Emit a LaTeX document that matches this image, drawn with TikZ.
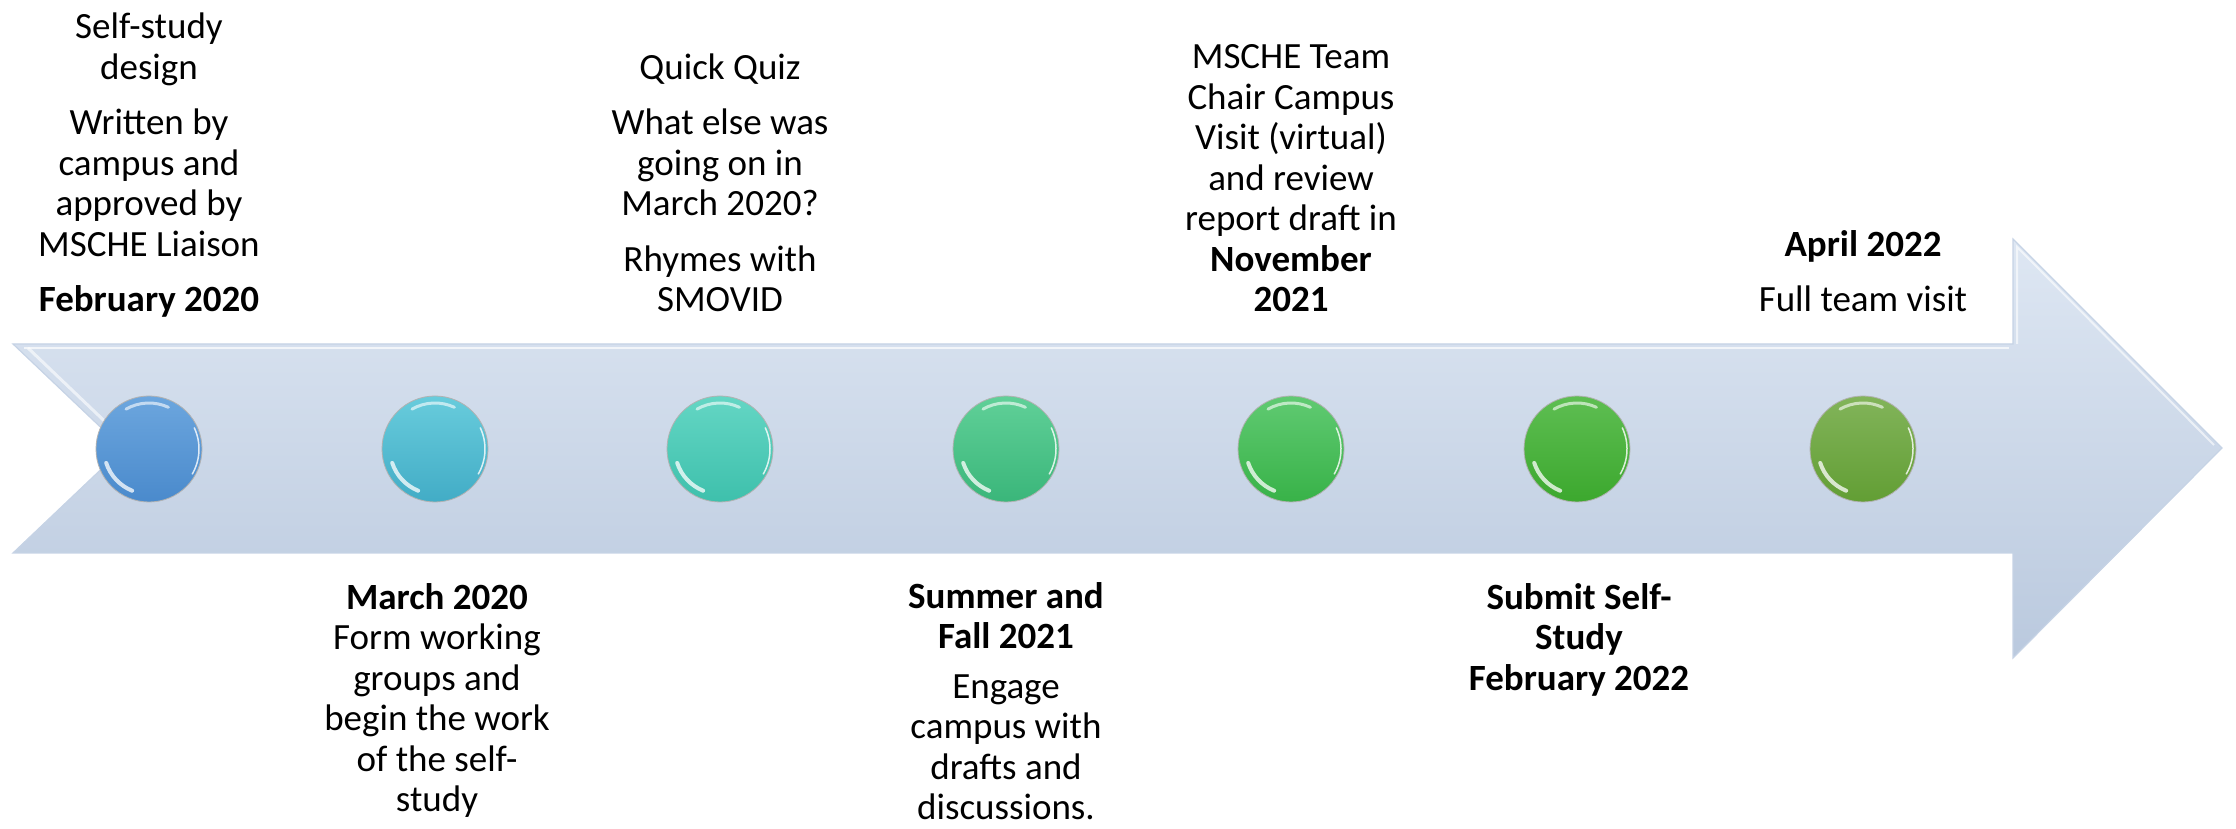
\documentclass[tikz,border=0pt]{standalone}
\usepackage{fontspec}
\setmainfont{Carlito}
\usetikzlibrary{calc}
\definecolor{arrtop}{RGB}{222,231,243}
\definecolor{arrbot}{RGB}{186,201,222}
\definecolor{arredge}{RGB}{198,211,229}
\definecolor{b1top}{RGB}{108,166,222}\definecolor{b1bot}{RGB}{74,138,204}
\definecolor{b2top}{RGB}{104,204,220}\definecolor{b2bot}{RGB}{66,172,198}
\definecolor{b3top}{RGB}{100,214,196}\definecolor{b3bot}{RGB}{62,192,172}
\definecolor{b4top}{RGB}{96,208,152}\definecolor{b4bot}{RGB}{58,182,122}
\definecolor{b5top}{RGB}{96,202,114}\definecolor{b5bot}{RGB}{56,178,72}
\definecolor{b6top}{RGB}{94,190,82}\definecolor{b6bot}{RGB}{60,168,46}
\definecolor{b7top}{RGB}{130,180,90}\definecolor{b7bot}{RGB}{98,158,52}
\begin{document}
\begin{tikzpicture}[x=1pt,y=1pt,
  ball/.style={circle, minimum size=106pt, inner sep=0pt, draw=black!30, line width=0.8pt},
  txt/.style={align=center, inner sep=0pt, font=\fontsize{37}{40.5}\selectfont},
  toptxt/.style={txt, anchor=south},
  bottxt/.style={txt, anchor=north},
  hl/.style={white, line cap=round}]
\useasboundingbox (0,0) rectangle (2236,829);
% arrow
\path[top color=arrtop, bottom color=arrbot, draw=arredge, line width=1.2pt]
  (13,485) -- (2013,485) -- (2013,590) -- (2222,381) -- (2013,171) -- (2013,276)
  -- (13,276) -- (123,380.5) -- cycle;
\draw[white, line width=2.5pt, opacity=.7] (24,481) -- (2009,481);
\draw[white, line width=3pt, opacity=.6] (28,481) -- (118,395);
\draw[white, line width=2pt, opacity=.6] (2017,485) -- (2017,582) -- (2214,384);
% balls
\foreach \i/\x in {1/149,2/435,3/720,4/1006,5/1291,6/1577,7/1863} {
  \node[ball, top color=b\i top, bottom color=b\i bot] (c\i) at (\x,380) {};
  \draw[hl, line width=4pt, opacity=.75] ($(c\i.center)+(198:45)$) arc[start angle=198,end angle=248,radius=45];
  \draw[hl, line width=3pt, opacity=.6] ($(c\i.center)+(65:46)$) arc[start angle=65,end angle=120,radius=46];
  \draw[hl, line width=1.5pt, opacity=.8] ($(c\i.center)+(-30:50)$) arc[start angle=-30,end angle=25,radius=50];
}
% texts above
\node[toptxt] (t1) at (149,505) {Self-study\\design\\[15pt]Written by\\campus and\\approved by\\MSCHE Liaison\\[15pt]\textbf{February 2020}\strut};
\node[toptxt] (t3) at (720,505) {Quick Quiz\\[15pt]What else was\\going on in\\March 2020?\\[15pt]Rhymes with\\SMOVID\strut};
\node[toptxt] (t5) at (1291,505) {MSCHE Team\\Chair Campus\\Visit (virtual)\\and review\\report draft in\\\textbf{November}\\\textbf{2021}\strut};
\node[toptxt] (t7) at (1863,505) {\textbf{April 2022}\\[15pt]Full team visit\strut};
% texts below
\node[bottxt] (t2) at (437,248.5) {\strut\textbf{March 2020}\\Form working\\groups and\\begin the work\\of the self-\\study};
\node[bottxt] (t4) at (1006,249.5) {\strut\textbf{Summer and}\\\textbf{Fall 2021}\\[9pt]Engage\\campus with\\drafts and\\discussions.};
\node[bottxt] (t6) at (1579,248.5) {\strut\textbf{Submit Self-}\\\textbf{Study}\\\textbf{February 2022}};
\end{tikzpicture}
\end{document}
